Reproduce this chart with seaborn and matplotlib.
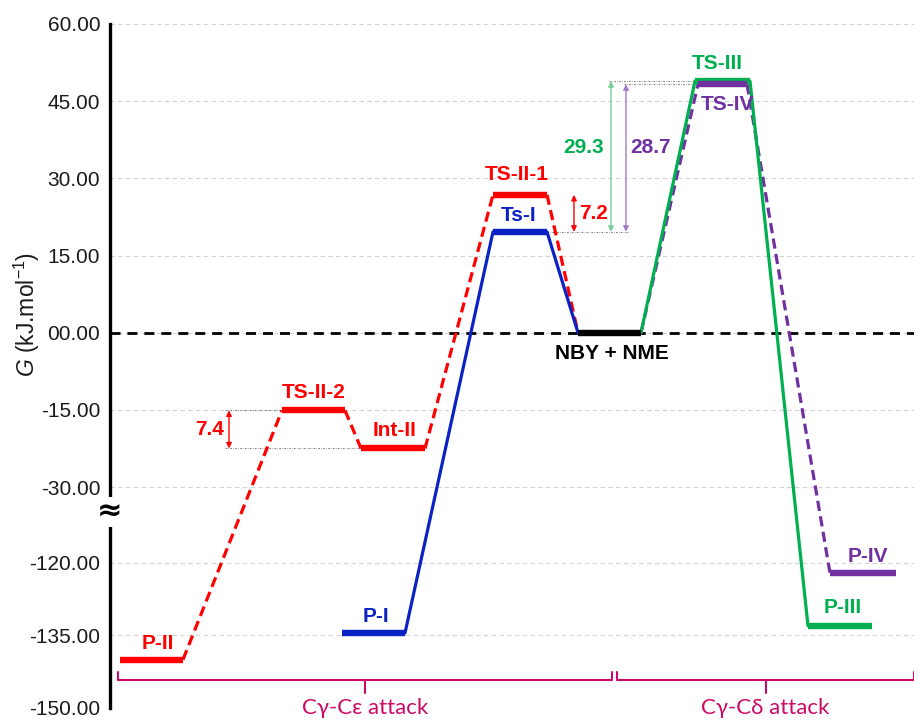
import numpy as np
import pandas as pd
import matplotlib
matplotlib.use("Agg")
import matplotlib.pyplot as plt
import seaborn as sns

# ---------------------------------------------------------------------------
# Free-energy profile data (kJ/mol)
# ---------------------------------------------------------------------------
species = ["P-II", "TS-II-2", "Int-II", "P-I", "TS-II-1", "Ts-I",
           "NBY + NME", "TS-III", "TS-IV", "P-III", "P-IV"]
energy = [-140.0, -15.1, -22.5, -134.5, 26.8, 19.6,
          0.0, 48.9, 48.3, -133.0, -122.1]

# reaction channels (ordered along the reaction coordinate)
path_I = ["P-I", "Ts-I", "NBY + NME"]
path_II = ["P-II", "TS-II-2", "Int-II", "TS-II-1", "NBY + NME"]
path_III = ["NBY + NME", "TS-III", "P-III"]
path_IV = ["NBY + NME", "TS-IV", "P-IV"]

# barrier annotations: (upper species, lower species)
barriers = [("TS-II-2", "Int-II"), ("TS-II-1", "Ts-I"),
            ("TS-III", "Ts-I"), ("TS-IV", "Ts-I")]

ytick_values = [60, 45, 30, 15, 0, -15, -30, -120, -135, -150]
ytick_labels = ["60.00", "45.00", "30.00", "15.00", "00.00", "-15.00",
                "-30.00", "-120.00", "-135.00", "-150.00"]

group_labels = ["C\u03b3-C\u03b5 attack", "C\u03b3-C\u03b4 attack"]

# ---------------------------------------------------------------------------
# Layout (reaction-coordinate units) and styling
# ---------------------------------------------------------------------------
span = {"P-II": (10, 73), "TS-II-2": (172, 235), "Int-II": (251, 315),
        "P-I": (232, 295), "TS-II-1": (383, 437), "Ts-I": (383, 437),
        "NBY + NME": (468, 531), "TS-III": (585, 640), "TS-IV": (588, 637),
        "P-III": (698, 762), "P-IV": (720, 786)}

RED, BLUE, GREEN, PURPLE = "#FF0000", "#0A22C4", "#00B050", "#7030A0"
color = {"P-II": RED, "TS-II-2": RED, "Int-II": RED, "TS-II-1": RED,
         "P-I": BLUE, "Ts-I": BLUE, "NBY + NME": "black",
         "TS-III": GREEN, "P-III": GREEN, "TS-IV": PURPLE, "P-IV": PURPLE}
arrow_color = {"TS-II-2": RED, "TS-II-1": RED,
               "TS-III": "#7CCF9C", "TS-IV": "#A27CC8"}
label_color = {"TS-II-2": RED, "TS-II-1": RED, "TS-III": GREEN, "TS-IV": PURPLE}

# label offsets in pixels from the level centre
label_offset = {"P-II": (6, 16), "TS-II-2": (0, 18), "Int-II": (2, 18),
                "P-I": (2, 17), "TS-II-1": (-3, 20), "Ts-I": (-1, 16),
                "NBY + NME": (2, -21), "TS-III": (-5, 18), "TS-IV": (5, -20),
                "P-III": (3, 18), "P-IV": (5, 17)}

# barrier arrow placement: x of the arrow, text x, text ha, text y, dotted-line starts
arrow_layout = {"TS-II-2": dict(x=119, tx=114, ha="right", ty=None, x_up=115, x_lo=115),
                "TS-II-1": dict(x=464, tx=469, ha="left", ty=None, x_up=437, x_lo=437),
                "TS-III": dict(x=501, tx=494, ha="right", ty=36.0, x_up=499, x_lo=None),
                "TS-IV": dict(x=516, tx=520, ha="left", ty=36.0, x_up=514, x_lo=None)}

G = dict(zip(species, energy))

# ---------------------------------------------------------------------------
# Broken energy axis: -30 ... -120 compressed
# ---------------------------------------------------------------------------
LOW_TOP = -44.75
LOW_SLOPE = 0.94
MID_SLOPE = 14.75 / 90.0


def _fwd(v):
    v = np.asarray(v, dtype=float)
    return np.where(v >= -30, v,
                    np.where(v <= -120, LOW_TOP + (v + 120) * LOW_SLOPE,
                             -30 + (v + 30) * MID_SLOPE))


def _inv(u):
    u = np.asarray(u, dtype=float)
    return np.where(u >= -30, u,
                    np.where(u <= LOW_TOP, -120 + (u - LOW_TOP) / LOW_SLOPE,
                             -30 + (u + 30) / MID_SLOPE))


sns.set_theme(style="white")
plt.rcParams["font.family"] = ["Liberation Sans", "DejaVu Sans"]
plt.rcParams["mathtext.fontset"] = "custom"
plt.rcParams["mathtext.rm"] = "Liberation Sans"
plt.rcParams["mathtext.it"] = "Liberation Sans:italic"

fig = plt.figure(figsize=(9.14, 7.2), dpi=100)
ax = fig.add_axes([110 / 914, 12 / 720, 804 / 914, 684 / 720])
ax.set_yscale("function", functions=(_fwd, _inv))
ax.set_xlim(0, 804)
ax.set_ylim(-150, 60)

# grid and axis styling
ax.set_yticks(ytick_values)
ax.set_yticklabels(ytick_labels, fontsize=15, color="#1a1a1a")
ax.set_xticks([])
ax.grid(axis="y", color="#d2d2d2", linestyle=(0, (4, 3)), linewidth=0.8)
ax.set_axisbelow(True)
for side in ("top", "right", "bottom"):
    ax.spines[side].set_visible(False)
ax.spines["left"].set_linewidth(2.4)
ax.spines["left"].set_color("black")
ax.tick_params(axis="y", direction="in", length=6, width=0.9, color="#555555", pad=7)

# reference zero line
ax.axhline(0, color="black", lw=2.0, linestyle=(0, (3.6, 2.5)), zorder=1)


# connector lines between consecutive stationary points
def connectors(path):
    rows = []
    for k, (a, b) in enumerate(zip(path[:-1], path[1:])):
        rows.append({"seg": k, "order": 0, "x": span[a][1], "G": G[a]})
        rows.append({"seg": k, "order": 1, "x": span[b][0], "G": G[b]})
    return pd.DataFrame(rows)


dash = (0, (3.2, 1.7))
for path, col, ls in [(path_II, RED, dash), (path_I, BLUE, "-"),
                      (path_IV, PURPLE, dash), (path_III, GREEN, "-")]:
    sns.lineplot(data=connectors(path), x="x", y="G", units="seg",
                 estimator=None, sort=False, color=col, lw=2.3,
                 linestyle=ls, ax=ax, zorder=3)

# energy levels
level_order = ["P-II", "TS-II-2", "Int-II", "TS-II-1", "P-I", "Ts-I",
               "NBY + NME", "TS-III", "P-III", "TS-IV", "P-IV"]
for s in level_order:
    x0, x1 = span[s]
    ax.plot([x0, x1], [G[s], G[s]], color=color[s], lw=4.6,
            solid_capstyle="butt", zorder=4)
    dx, dy = label_offset[s]
    ax.annotate(s, xy=((x0 + x1) / 2, G[s]), xytext=(dx, dy),
                textcoords="offset pixels", ha="center", va="center",
                fontsize=15, fontweight="bold", color=color[s], zorder=5)

# barrier arrows with dotted guide lines
for up, lo in barriers:
    lay = arrow_layout[up]
    ax.plot([lay["x_up"], span[up][0]], [G[up], G[up]], color="#808080",
            lw=0.8, linestyle=(0, (1.5, 1.2, 0.5, 1.2)), zorder=2)
    if lay["x_lo"] is not None:
        x_end = span[lo][0] if span[lo][0] > lay["x"] else 520
        ax.plot([lay["x_lo"], x_end], [G[lo], G[lo]], color="#808080",
                lw=0.8, linestyle=(0, (1.5, 1.2, 0.5, 1.2)), zorder=2)
    ax.annotate("", xy=(lay["x"], G[up]), xytext=(lay["x"], G[lo]),
                arrowprops=dict(arrowstyle="<|-|>", color=arrow_color[up],
                                lw=1.0, mutation_scale=8,
                                shrinkA=0, shrinkB=0), zorder=2)
    ty = lay["ty"] if lay["ty"] is not None else (G[up] + G[lo]) / 2
    ax.text(lay["tx"], ty, f"{G[up] - G[lo]:.1f}", ha=lay["ha"], va="center",
            fontsize=15, fontweight="bold", color=label_color[up])

# channel brackets along the bottom
BRACKET = "#CC0A66"
y_line, y_hook, y_tick, y_text = -144.2, -142.5, -147.0, -150.0
for (x0, x1), text in zip([(8, 502), (507, 804)], group_labels):
    xm = (x0 + x1) / 2
    ax.plot([x0, x0, x1, x1], [y_hook, y_line, y_line, y_hook],
            color=BRACKET, lw=1.5, clip_on=False, zorder=2)
    ax.plot([xm, xm], [y_line, y_tick], color=BRACKET, lw=1.5,
            clip_on=False, zorder=2)
    ax.text(xm, y_text, text, ha="center", va="center", fontsize=16,
            color=BRACKET, family=["Lato", "Noto Sans", "DejaVu Sans"],
            clip_on=False, zorder=2)

# axis-break mark
ax.text(0, -60, "\u2248", transform=ax.get_yaxis_transform(),
        ha="center", va="center", fontsize=22, fontweight="bold",
        family=["DejaVu Sans"], color="black", zorder=6, clip_on=False,
        bbox=dict(facecolor="white", edgecolor="none", pad=0.5))

ax.set_xlabel("")
ax.set_ylabel("")
fig.text(27 / 914, 1 - 314 / 720, r"$G$ (kJ.mol$^{-1}$)", rotation=90,
         ha="center", va="center", fontsize=16.5, color="#1a1a1a")

fig.savefig("out.png", dpi=100)
